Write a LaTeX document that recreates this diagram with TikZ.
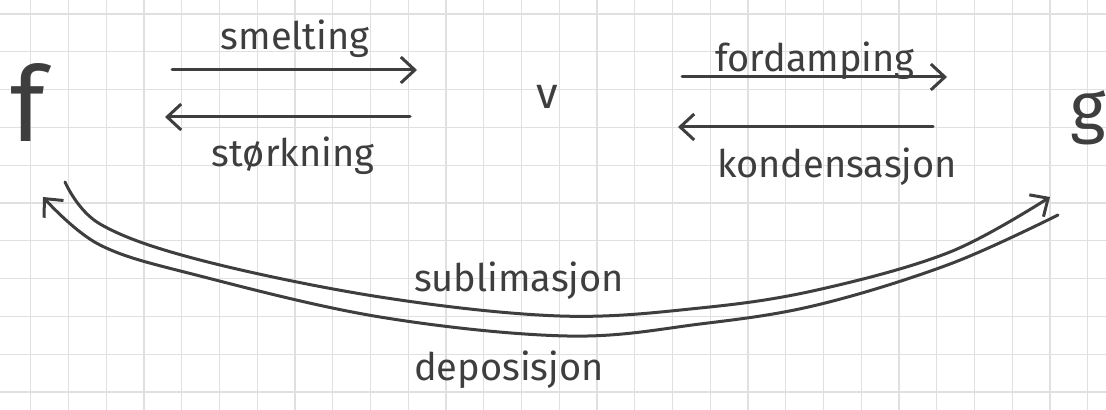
\documentclass[tikz,border=0pt]{standalone}
\usepackage{fontspec}
\setmainfont{Fira Sans}
\usetikzlibrary{arrows.meta}
\definecolor{ink}{RGB}{62,62,62}
\definecolor{gridc}{RGB}{224,224,224}
\tikzset{
  pen/.style={draw=ink, line width=1.5pt, line cap=round, line join=round},
  tip/.style={-{Straight Barb[length=7pt,width=13pt,line width=1.5pt]}},
  lbl/.style={text=ink, font=\fontsize{19}{22}\selectfont, inner sep=0pt, anchor=base},
  letter/.style={text=ink, inner sep=0pt, anchor=center},
}
\begin{document}
\begin{tikzpicture}[x=0.5pt,y=-0.5pt]
\useasboundingbox (0,0) rectangle (1106,410);
\fill[white] (0,0) rectangle (1106,410);
% grid
\foreach \k in {0,...,28} {\draw[gridc, line width=0.6pt] ({30.7+37.75*\k},0) -- ({30.7+37.75*\k},410);}
\foreach \k in {0,...,10} {\draw[gridc, line width=0.6pt] (0,{14+37.8*\k}) -- (1106,{14+37.8*\k});}
% states
\node[letter, font=\fontsize{52}{60}\selectfont] (f) at (28,103) {f};
\node[letter, font=\fontsize{22}{26}\selectfont] (v) at (547,97) {v};
\node[letter, font=\fontsize{34}{40}\selectfont] (g) at (1088,118) {g};
% endpoints
\coordinate (sm1) at (172,70);  \coordinate (sm2) at (417,70);
\coordinate (st1) at (410,117); \coordinate (st2) at (165,117);
\coordinate (fo1) at (682,77);  \coordinate (fo2) at (947,77);
\coordinate (ko1) at (933,127); \coordinate (ko2) at (678,127);
\coordinate (su1) at (65,182);  \coordinate (su2) at (1050,197);
\coordinate (de1) at (1058,215); \coordinate (de2) at (43,197);
% straight arrows
\draw[pen, tip] (sm1) -- (sm2);
\draw[pen, tip] (st1) -- (st2);
\draw[pen, tip] (fo1) -- (fo2);
\draw[pen, tip] (ko1) -- (ko2);
% curved arrows
\draw[pen, tip] plot[smooth, tension=0.6] coordinates {(su1) (100,224) (200,260) (380,297) (560,316) (700,308) (817,290) (950,252) (su2)};
\draw[pen, tip] plot[smooth, tension=0.6] coordinates {(de1) (950,264) (817,305) (700,324) (567,336) (380,317) (200,276) (100,245) (de2)};
% labels
\node[lbl] (lsm) at (295,50) {smelting};
\node[lbl] (lst) at (293,167) {størkning};
\node[lbl] (lfo) at (815,72) {fordamping};
\node[lbl] (lko) at (837,178) {kondensasjon};
\node[lbl] (lsu) at (519,292) {sublimasjon};
\node[lbl] (lde) at (509,380) {deposisjon};
\end{tikzpicture}
\end{document}
